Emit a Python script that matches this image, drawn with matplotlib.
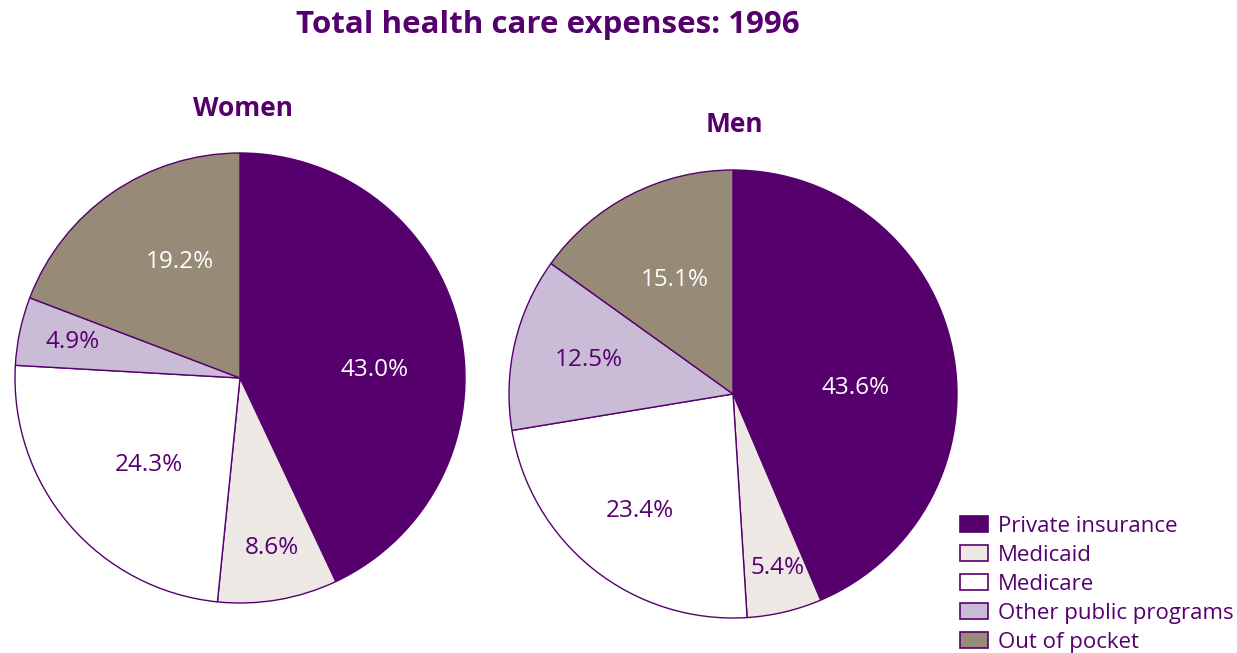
import matplotlib
matplotlib.use("Agg")
import matplotlib.pyplot as plt
from matplotlib.patches import Patch
import numpy as np

plt.rcParams['font.family'] = ['Open Sans', 'DejaVu Sans']

categories = ["Private insurance", "Medicaid", "Medicare", "Other public programs", "Out of pocket"]
women = [43.0, 8.6, 24.3, 4.9, 19.2]
men = [43.6, 5.4, 23.4, 12.5, 15.1]
colors = ["#56006E", "#EDE8E3", "#FFFFFF", "#CABBD7", "#978A77"]
text_colors = ["white", "#56006E", "#56006E", "#56006E", "white"]
PURPLE = "#56006E"

W, H = 1237, 653
fig = plt.figure(figsize=(W / 100, H / 100), dpi=100)

def px_axes(cx, cy, r):
    return fig.add_axes([(cx - r) / W, (H - cy - r) / H, 2 * r / W, 2 * r / H])

def draw_pie(ax, vals, dists, offsets):
    wedges, texts, autotexts = ax.pie(
        vals, colors=colors, startangle=90, counterclock=False,
        autopct='%1.1f%%', pctdistance=0.6,
        wedgeprops=dict(edgecolor=PURPLE, linewidth=1.0),
        textprops=dict(fontsize=17.5))
    for w, t, c, d, o in zip(wedges, autotexts, text_colors, dists, offsets):
        ang = np.deg2rad((w.theta1 + w.theta2) / 2 + o)
        t.set_position((d * np.cos(ang), d * np.sin(ang)))
        t.set_color(c)
    ax.set_xlim(-1, 1)
    ax.set_ylim(-1, 1)
    ax.set_aspect('equal')

ax1 = px_axes(240, 378, 225)
draw_pie(ax1, women, [0.6, 0.77, 0.56, 0.76, 0.58], [-9, 1, 3, 0, -7])
ax2 = px_axes(733, 394, 224)
draw_pie(ax2, men, [0.55, 0.80, 0.67, 0.66, 0.57], [-8.5, 1, 0, 0, 0])

fig.text(548 / W, 1 - 25 / H, "Total health care expenses: 1996", ha='center', va='center',
         fontsize=22.5, fontweight='bold', color=PURPLE)
fig.text(243 / W, 1 - 108 / H, "Women", ha='center', va='center',
         fontsize=19, fontweight='bold', color=PURPLE)
fig.text(734 / W, 1 - 124 / H, "Men", ha='center', va='center',
         fontsize=19, fontweight='bold', color=PURPLE)

handles = [Patch(facecolor=c, edgecolor=PURPLE, linewidth=1.2) for c in colors]
leg = fig.legend(handles, categories, loc='upper left',
                 bbox_to_anchor=(951 / W, 1 - 507 / H), frameon=False,
                 fontsize=16, handlelength=1.25, handleheight=0.75,
                 handletextpad=0.45, labelspacing=0.36, borderaxespad=0)
for t in leg.get_texts():
    t.set_color(PURPLE)

fig.savefig("out.png", dpi=100)
